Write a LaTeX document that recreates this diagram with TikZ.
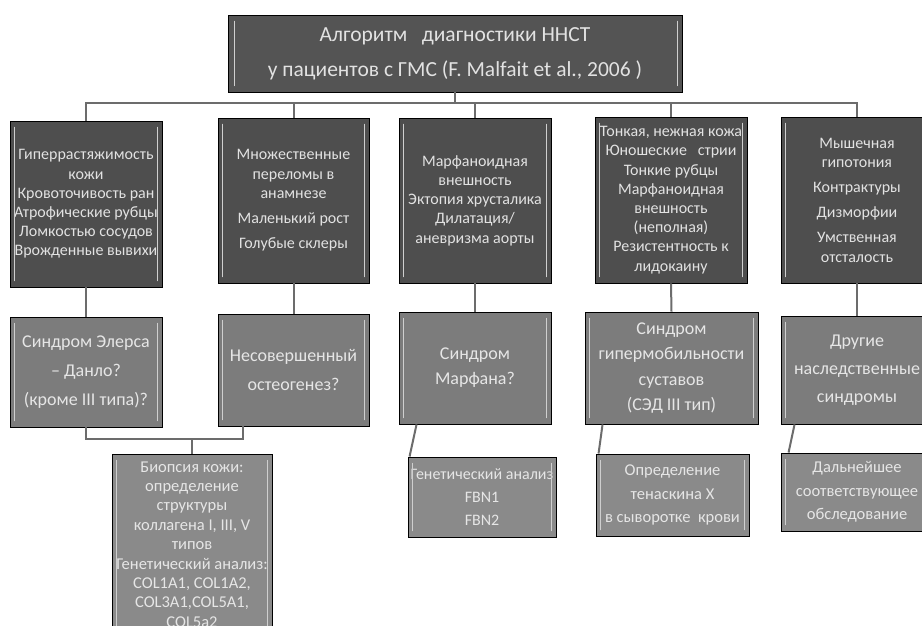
\documentclass[tikz,border=0pt]{standalone}
\usepackage{fontspec}
\setmainfont{Carlito}
\definecolor{topgray}{HTML}{4E4E4E}
\definecolor{titlegray}{HTML}{545454}
\definecolor{midgray}{HTML}{7C7C7C}
\definecolor{botgray}{HTML}{8A8A8A}
\definecolor{toptext}{HTML}{E2E2E2}
\definecolor{midtext}{HTML}{E6E6E6}
\definecolor{linegray}{HTML}{6C6C6C}
\definecolor{hlgray}{HTML}{CFCFCF}
\tikzset{
  box/.style={draw=black, line width=0.9pt, inner sep=0pt, align=center},
  titlebox/.style={box, fill=titlegray, text=toptext, font=\fontsize{21.5}{35}\selectfont},
  topbox/.style={box, fill=topgray, text=toptext, font=\fontsize{16}{19.2}\selectfont},
  midbox/.style={box, fill=midgray, text=midtext, font=\fontsize{18}{29}\selectfont},
  botbox/.style={box, fill=botgray, text=midtext, font=\fontsize{16.5}{23.5}\selectfont},
  conn/.style={draw=linegray, line width=2pt},
  hl/.style={draw=hlgray, line width=1.6pt, line cap=round}
}
\begin{document}
\begin{tikzpicture}[x=1pt,y=1pt]
\useasboundingbox (0,0) rectangle (922,-626);
\fill[white] (0,0) rectangle (922,-626);
\clip (0,0) rectangle (922,-626);

\node[titlebox, minimum width=454pt, minimum height=77pt] (title) at (455,-53.5)
  {Алгоритм\ \ \ диагностики ННСТ\\у пациентов с ГМС (F. Malfait et al., 2006 )};

\node[topbox, minimum width=152pt, minimum height=166pt] (t1) at (86,-204)
  {Гиперрастяжимость\\кожи\\Кровоточивость ран\\Атрофические рубцы\\Ломкостью сосудов\\Врожденные вывихи};
\node[topbox, minimum width=151pt, minimum height=165pt] (t2) at (293.5,-200.5)
  {Множественные\\переломы в\\анамнезе\\[6pt]Маленький рост\\[6pt]Голубые склеры};
\node[topbox, minimum width=152pt, minimum height=165pt] (t3) at (475,-200.5)
  {Марфаноидная\\внешность\\Эктопия хрусталика\\Дилатация/\\аневризма аорты};
\node[topbox, minimum width=152pt, minimum height=166pt] (t4) at (671,-200)
  {Тонкая, нежная кожа\\Юношеские\ \ \ стрии\\Тонкие рубцы\\Марфаноидная\\внешность\\(неполная)\\Резистентность к\\лидокаину};
\node[topbox, minimum width=152pt, minimum height=166pt] (t5) at (857,-200)
  {Мышечная\\гипотония\\[6pt]Контрактуры\\[6pt]Дизморфии\\[6pt]Умственная\\отсталость};

\node[midbox, minimum width=152pt, minimum height=110pt] (m1) at (86,-372)
  {Синдром Элерса\\– Данло?\\(кроме III типа)?};
\node[midbox, minimum width=151pt, minimum height=112pt] (m2) at (293.5,-370)
  {Несовершенный\\остеогенез?};
\node[midbox, minimum width=152pt, minimum height=112pt, font=\fontsize{18}{25}\selectfont] (m3) at (475,-368)
  {Синдром\\Марфана?};
\node[midbox, minimum width=173pt, minimum height=112pt, font=\fontsize{18}{25.5}\selectfont] (m4) at (671.5,-368)
  {Синдром\\гипермобильности\\суставов\\(СЭД III тип)};
\node[midbox, minimum width=152pt, minimum height=108pt, font=\fontsize{18}{28}\selectfont] (m5) at (857,-370)
  {Другие\\наследственные\\синдромы};

\node[botbox, minimum width=160pt, minimum height=181pt, font=\fontsize{16.5}{19.4}\selectfont] (b1) at (192,-544.5)
  {Биопсия кожи:\\определение\\структуры\\коллагена I, III, V\\типов\\Генетический анализ:\\COL1A1, COL1A2,\\COL3A1,COL5A1,\\COL5a2};
\node[botbox, minimum width=148pt, minimum height=80pt, font=\fontsize{16}{23}\selectfont] (b3) at (482,-497)
  {Генетический анализ\\FBN1\\FBN2};
\node[botbox, minimum width=153pt, minimum height=82pt] (b4) at (672.5,-495)
  {Определение\\тенаскина X\\в сыворотке\ \ крови};
\node[botbox, minimum width=152pt, minimum height=78pt] (b5) at (857,-492)
  {Дальнейшее\\соответствующее\\обследование};

\foreach \n/\s in {title/7,t1/5,t2/5,t3/5,t4/5,t5/5,m1/5,m2/5,m3/5,m4/5,m5/5,b1/5,b3/5,b4/5,b5/5} {
  \draw[hl] ([xshift=\s pt,yshift=-7pt]\n.north west) -- ([xshift=\s pt,yshift=7pt]\n.south west);
  \draw[hl] ([xshift=-5pt,yshift=-7pt]\n.north east) -- ([xshift=-5pt,yshift=7pt]\n.south east);
}

\coordinate (bus) at (0,-103);
\draw[conn] (title.south) -- (title.south |- bus);
\draw[conn] (t1.north) -- (t1.north |- bus) -- (t5.north |- bus) -- (t5.north);
\foreach \n in {t2,t3,t4} \draw[conn] (\n.north) -- (\n.north |- bus);
\foreach \a/\b in {t1/m1,t2/m2,t3/m3,t4/m4,t5/m5} \draw[conn] (\a.south) -- (\b.north);

\coordinate (bus2) at (0,-439);
\draw[conn] (m1.south) -- (m1.south |- bus2) -- ([xshift=-50.5pt]m2.south |- bus2) -- ([xshift=-50.5pt]m2.south);
\draw[conn] (b1.north |- bus2) -- (b1.north);
\draw[conn] ([xshift=18pt]m3.south west) -- ([xshift=2pt]b3.north west);
\draw[conn] ([xshift=18pt]m4.south west) -- ([xshift=3pt]b4.north west);
\draw[conn] ([xshift=14pt]m5.south west) -- ([xshift=8pt]b5.north west);
\end{tikzpicture}
\end{document}
